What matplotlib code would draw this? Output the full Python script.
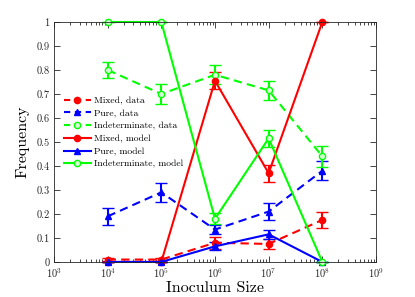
import matplotlib
matplotlib.use("Agg")
import matplotlib.pyplot as plt
import numpy as np
from matplotlib.ticker import LogLocator, FixedLocator, FuncFormatter, NullFormatter
from matplotlib.lines import Line2D

plt.rcParams['font.family'] = ['cmr10', 'DejaVu Serif']
plt.rcParams['mathtext.fontset'] = 'cm'
plt.rcParams['axes.formatter.use_mathtext'] = True

x = [1e4, 1e5, 1e6, 1e7, 1e8]

mixed_data = [0.01, 0.01, 0.08, 0.075, 0.175]
mixed_data_err = [0.005, 0.005, 0.025, 0.022, 0.035]
pure_data = [0.19, 0.29, 0.135, 0.21, 0.38]
pure_data_err = [0.035, 0.04, 0.02, 0.035, 0.04]
indet_data = [0.80, 0.70, 0.78, 0.715, 0.44]
indet_data_err = [0.035, 0.04, 0.04, 0.04, 0.045]

mixed_model = [0.0, 0.0, 0.755, 0.37, 1.0]
mixed_model_err = [0.0, 0.0, 0.035, 0.035, 0.0]
pure_model = [0.0, 0.0, 0.065, 0.115, 0.0]
pure_model_err = [0.0, 0.0, 0.017, 0.02, 0.0]
indet_model = [1.0, 1.0, 0.18, 0.515, 0.0]
indet_model_err = [0.0, 0.0, 0.022, 0.035, 0.0]

labels = ['Mixed, data', 'Pure, data', 'Indeterminate, data',
          'Mixed, model', 'Pure, model', 'Indeterminate, model']

red = '#ff0000'
blue = '#0000ff'
green = '#00ff00'

fig = plt.figure(figsize=(4.15, 2.97), dpi=100)
ax = fig.add_axes([0.130, 0.118, 0.776, 0.808])

handles = []

def draw(y, err, color, marker, ls, label, mfc=None):
    kw = dict(color=color, lw=1.5, marker=marker, ms=4.5,
              mfc=mfc if mfc else color, mec=color, mew=1.0,
              capsize=4, elinewidth=1.5, capthick=1.5, clip_on=False)
    c = ax.errorbar(x, y, yerr=err, ls=ls, **kw)
    if ls == '--':
        c[0].set_dashes((4, 2.5))
    for b in c[1] + c[2]:
        b.set_clip_on(False)
    h = Line2D([], [], color=color, lw=1.5, ls=ls, marker=marker, ms=4.5,
               mfc=mfc if mfc else color, mec=color, mew=1.0)
    if ls == '--':
        h.set_dashes((3, 2.2))
    handles.append((h, label))

draw(mixed_data, mixed_data_err, red, 'o', '--', labels[0])
draw(pure_data, pure_data_err, blue, '^', '--', labels[1])
draw(indet_data, indet_data_err, green, 'o', '--', labels[2], mfc='#d8ffd8')
draw(mixed_model, mixed_model_err, red, 'o', '-', labels[3])
draw(pure_model, pure_model_err, blue, '^', '-', labels[4])
draw(indet_model, indet_model_err, green, 'o', '-', labels[5], mfc='#d8ffd8')

ax.set_xscale('log')
ax.set_xlim(1e3, 1e9)
ax.set_ylim(0, 1)
ax.xaxis.set_major_locator(LogLocator(base=10, numticks=20))
ax.xaxis.set_minor_locator(LogLocator(base=10, subs=np.arange(2, 10), numticks=100))
ax.xaxis.set_minor_formatter(NullFormatter())
ax.yaxis.set_major_locator(FixedLocator(np.arange(0, 1.01, 0.1)))
ax.yaxis.set_major_formatter(FuncFormatter(lambda v, p: '%g' % round(v, 2)))

ax.tick_params(which='both', direction='in', top=True, right=True,
               colors='#262626', labelsize=7.5, width=0.6, pad=3)
ax.tick_params(which='major', length=4)
ax.tick_params(which='minor', length=2)
for s in ax.spines.values():
    s.set_color('#262626')
    s.set_linewidth(0.6)

ax.set_xlabel('Inoculum Size', fontsize=11.5, labelpad=1)
ax.set_ylabel('Frequency', fontsize=11.5, labelpad=5)

leg = ax.legend([h for h, l in handles], [l for h, l in handles],
                loc='upper left', bbox_to_anchor=(0.016, 0.71), frameon=False,
                fontsize=6.9, handlelength=2.8, handletextpad=0.35,
                labelspacing=0.42, borderpad=0.2, borderaxespad=0.3)

fig.savefig('out.png', dpi=100)
